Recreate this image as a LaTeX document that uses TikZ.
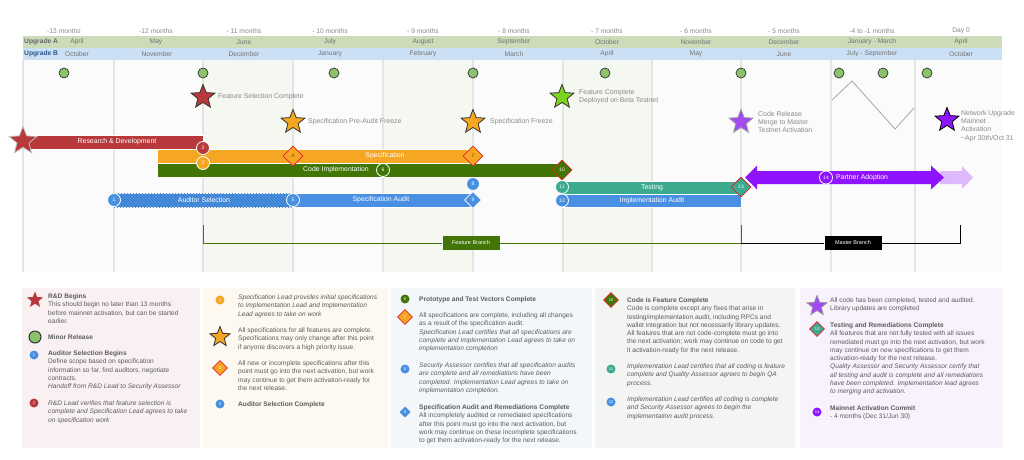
\documentclass[tikz,border=0pt]{standalone}
\usepackage{fontspec}
\setmainfont{Liberation Sans}
\usetikzlibrary{shapes.geometric,patterns}
\definecolor{txt}{HTML}{5C5C5C}
\definecolor{lbl}{HTML}{8A8A8A}
\definecolor{hdrtxt}{HTML}{888888}
\definecolor{rdred}{HTML}{B8393B}
\definecolor{orng}{HTML}{F5A623}
\definecolor{dgreen}{HTML}{417505}
\definecolor{blu}{HTML}{4A90E2}
\definecolor{dblu}{HTML}{3A78C8}
\definecolor{tealc}{HTML}{3BAA8E}
\definecolor{purp}{HTML}{9013FE}
\definecolor{mpurp}{HTML}{A24BF2}
\definecolor{lpurp}{HTML}{DDB8FB}
\definecolor{lgreen}{HTML}{7ED321}
\definecolor{minorg}{HTML}{8CC26A}
\definecolor{hdrA}{HTML}{CCDBB8}
\definecolor{hdrB}{HTML}{CCE0F5}
\definecolor{gridl}{HTML}{E4E4E4}
\definecolor{bgc}{HTML}{FBFBFB}
\definecolor{texc}{HTML}{F5F8F0}
\definecolor{pa}{HTML}{F9F1F1}
\definecolor{pb}{HTML}{FDF9F1}
\definecolor{pc}{HTML}{F4F7FA}
\definecolor{pd}{HTML}{F3F5F2}
\definecolor{pe}{HTML}{F7F2FC}
\definecolor{diared}{HTML}{E0262B}
\begin{document}
\begin{tikzpicture}[x=1pt,y=-1pt,
  hdr/.style={font=\fontsize{6.7}{7}\selectfont, text=hdrtxt, inner sep=0},
  minor/.style={circle, draw=black!80, line width=0.7, fill=minorg, minimum size=10, inner sep=0},
  star5/.style={star, star points=5, star point ratio=2.3, inner sep=0, draw=black!80, line width=0.8},
  mlbl/.style={anchor=west, font=\fontsize{6.9}{8.4}\selectfont, text=lbl, align=left, inner sep=0},
  bar/.style={rectangle, inner sep=0, draw=white, line width=0.4, minimum height=14},
  btxt/.style={font=\fontsize{6.9}{7}\selectfont, text=white, inner sep=0},
  numc/.style={circle, draw=white, line width=0.8, minimum size=13, inner sep=0, font=\fontsize{5}{5}\selectfont, text=white},
  numd/.style={diamond, draw=diared, line width=0.8, minimum size=20, inner sep=0, font=\fontsize{5}{5}\selectfont},
  lnum/.style={circle, minimum size=9, inner sep=0, font=\fontsize{4}{4}\selectfont, text=white},
  ldia/.style={diamond, draw=diared, line width=0.8, minimum size=15, inner sep=0, font=\fontsize{4}{4}\selectfont},
  lgd/.style={anchor=north west, inner sep=0, align=left, font=\fontsize{6.6}{8.3}\selectfont, text=txt},
  brbox/.style={rectangle, inner sep=0, minimum width=57, minimum height=14, font=\fontsize{5.5}{6}\selectfont, text=white}
]
\useasboundingbox (0,0) rectangle (1024,459);
\fill[white] (0,0) rectangle (1024,459);
% timeline background
\fill[bgc] (23,60) rectangle (1002,272);
\foreach \a/\b in {203/293,383/473,563/652} \fill[texc] (\a,60) rectangle (\b,272);
\foreach \x in {23,114,203,293,383,473,563,652,741,831,915} \draw[gridl, line width=1.2] (\x,60) -- (\x,272);
% header
\fill[hdrA] (23,36) rectangle (1002,48);
\fill[hdrB] (23,48) rectangle (1002,60);
\foreach \x/\t [count=\i] in {64/-13 months,156/-12 months,244/- 11 months,330/- 10 months,423/- 9 months,514/- 8 months,607/- 7 months,696/- 6 months,784/- 5 months,872/-4 to -1 months,961/Day 0}
  \node[hdr] (m\i) at (\x,31) {\t};
\node[hdr, anchor=west, text=black!60, font=\fontsize{6.7}{7}\selectfont\bfseries] (ua) at (24,42) {Upgrade A};
\node[hdr, anchor=west, text=dblu!70!black, font=\fontsize{6.7}{7}\selectfont\bfseries] (ub) at (24,54) {Upgrade B};
\foreach \x/\t [count=\i] in {77/April,156/May,244/June,330/July,423/August,514/September,607/October,696/November,784/December,872/January - March,961/April}
  \node[hdr, text=black!55] (a\i) at (\x,42) {\t};
\foreach \x/\t [count=\i] in {77/October,157/November,244/December,330/January,423/February,514/March,607/April,696/May,784/June,872/July - September,961/October}
  \node[hdr, text=black!55] (b\i) at (\x,54) {\t};
% minor releases
\foreach \x [count=\i] in {64,203,334,473,605,741,839,883,927}
  \node[minor] (mr\i) at (\x,73) {};
% zigzag
\draw[black!35, line width=0.8] (832,100) -- (852,81) -- (895,129) -- (914,108);
% milestone stars
\node[star5, fill=rdred, minimum size=25] (s1) at (203,97) {};
\node[mlbl] (l1) at (218,97) {Feature Selection Complete};
\node[star5, fill=orng, minimum size=25] (s2) at (293,122) {};
\node[mlbl] (l2) at (308,122) {Specification Pre-Audit Freeze};
\node[star5, fill=orng, minimum size=25] (s3) at (473,122) {};
\node[mlbl] (l3) at (490,122) {Specification Freeze};
\node[star5, fill=lgreen, minimum size=25] (s4) at (562,97) {};
\node[mlbl] (l4) at (579,97) {Feature Complete\\Deployed on Beta Testnet};
\node[star5, fill=mpurp, draw=black!40, minimum size=25] (s5) at (741,122) {};
\node[mlbl] (l5) at (758,122) {Code Release\\Merge to Master\\Testnet Activation};
\node[star5, fill=purp, draw=black, minimum size=25] (s6) at (947,120) {};
\node[mlbl] (l6) at (961,126) {Network Upgrade\\Mainnet\\Activation\\\textasciitilde Apr 30th/Oct 31};
% bars
\node[bar, fill=rdred, minimum width=175, anchor=west] (rd) at (28,142) {};
\node[btxt] (rdt) at (117,142) {Research \& Development};
\node[bar, fill=orng, minimum width=316, anchor=west] (spec) at (157,156) {};
\node[btxt] (spect) at (385,156) {Specification};
\node[bar, fill=dgreen, minimum width=405, anchor=west] (code) at (157,170) {};
\node[btxt] (codet) at (336,170) {Code Implementation};
\node[bar, fill=blu, minimum width=179, anchor=west, postaction={pattern=north west lines, pattern color=dblu}] (aud) at (114,200) {};
\node[btxt] (audt) at (204,200) {Auditor Selection};
\node[bar, fill=blu, minimum width=180, anchor=west] (saud) at (293,200) {};
\node[btxt] (saudt) at (381,200) {Specification Audit};
\node[bar, fill=tealc, minimum width=179, minimum height=13, anchor=west] (test) at (562,187.5) {};
\node[btxt] (testt) at (652,187.5) {Testing};
\node[bar, fill=blu, minimum width=179, minimum height=13, anchor=west] (iaud) at (562,200.5) {};
\node[btxt] (iaudt) at (652,200.5) {Implementation Audit};
% R&D star
\node[star5, fill=rdred, draw=black!25, minimum size=29] (s0) at (23,141) {};
% partner adoption arrows
\fill[lpurp] (940,171) -- (962,171) -- (962,166) -- (973,177.5) -- (962,189) -- (962,184) -- (940,184) -- cycle;
\fill[purp] (745,177.5) -- (757,165.5) -- (757,171) -- (931,171) -- (931,165.5) -- (944,177.5) -- (931,189.5) -- (931,184) -- (757,184) -- (757,189.5) -- cycle;
\node[btxt, anchor=west] (pat) at (836,177.5) {Partner Adoption};
% numbered markers
\node[numc, fill=rdred] (c2) at (203,148) {2};
\node[numc, fill=orng] (c3) at (203,163) {3};
\node[numd, fill=orng, text=black!70] (d4) at (293,156) {4};
\node[numd, fill=orng, text=black!70] (d7) at (473,156) {7};
\node[numc, fill=dgreen] (c6) at (383,170) {6};
\node[numd, fill=dgreen, text=white] (d10) at (562,170) {10};
\node[numc, fill=blu] (c8) at (473,184) {8};
\node[numc, fill=blu] (c1) at (114,200) {1};
\node[numc, fill=blu] (c5) at (293,200) {5};
\node[numd, fill=blu, draw=white, text=white, minimum size=17] (d9) at (473,200) {9};
\node[numc, fill=tealc] (c11) at (562,187) {11};
\node[numc, fill=blu] (c12) at (562,200.5) {12};
\node[numd, fill=tealc, text=white] (d13) at (741,187) {13};
\node[numc, fill=purp] (c14) at (826,177.5) {14};
% branches
\coordinate (fbL) at (203,225);
\coordinate (fbR) at (741,225);
\coordinate (mbR) at (960,225);
\node[brbox, fill=dgreen] (fb) at (471,243) {Feature Branch};
\node[brbox, fill=black] (mb) at (853,243) {Master Branch};
\draw[dgreen, line width=0.9] (fbL) |- (fb.west);
\draw[dgreen, line width=0.9] (fb.east) -| (fbR);
\draw[black, line width=0.9] (fbR |- fb.east) -- (mb.west);
\draw[black, line width=0.9] (mb.east) -| (mbR);
% legend panels
\fill[pa] (22,288) rectangle (200,448);
\fill[pb] (203,288) rectangle (388,448);
\fill[pc] (391,288) rectangle (592,448);
\fill[pd] (595,288) rectangle (795,448);
\fill[pe] (800,288) rectangle (1003,448);
% panel 1
\node[star, star points=5, star point ratio=2.3, inner sep=0, fill=rdred, minimum size=17] (i1) at (35,300) {};
\node[minor, minimum size=12, line width=1] (i2) at (35,337) {};
\node[lnum, fill=blu] (i3) at (34,355) {1};
\node[lnum, fill=rdred] (i4) at (34,403) {2};
\node[lgd] (t1a) at (48,293.5) {\textbf{R\&D Begins}\\This should begin no later than 13 months\\before mainnet activation, but can be started\\earlier.};
\node[lgd] (t1b) at (48,334.5) {\textbf{Minor Release}};
\node[lgd] (t1c) at (48,350.5) {\textbf{Auditor Selection Begins}\\Define scope based on specification\\information so far, find auditors, negotiate\\contracts.\\\textit{Handoff from R\&D Lead to Security Assessor}};
\node[lgd] (t1d) at (48,400.5) {\textit{R\&D Lead verifies that feature selection is}\\\textit{complete and Specification Lead agrees to take}\\\textit{on specification work}};
% panel 2
\node[lnum, fill=orng] (i5) at (220,300) {3};
\node[star5, fill=orng, minimum size=21] (i6) at (220,337) {};
\node[ldia, fill=orng, text=white] (i7) at (220,368) {4};
\node[lnum, fill=blu] (i8) at (220,404) {5};
\node[lgd] (t2a) at (238,294.5) {\textit{Specification Lead provides initial specifications}\\\textit{to Implementation Lead and Implementation}\\\textit{Lead agrees to take on work}};
\node[lgd] (t2b) at (238,327.5) {All specifications for all features are complete.\\Specifications may only change after this point\\if anyone discovers a high priority issue.};
\node[lgd] (t2c) at (238,360.5) {All new or incomplete specifications after this\\point must go into the next activation, but work\\may continue to get them activation-ready for\\the next release.};
\node[lgd] (t2d) at (238,401.5) {\textbf{Auditor Selection Complete}};
% panel 3
\node[lnum, fill=dgreen] (i9) at (405,299) {6};
\node[ldia, fill=orng, text=white] (i10) at (405,317) {7};
\node[lnum, fill=blu] (i11) at (405,369) {8};
\node[ldia, fill=blu, draw=white, text=white, minimum size=13] (i12) at (405,412) {9};
\node[lgd] (t3a) at (419,296.5) {\textbf{Prototype and Test Vectors Complete}};
\node[lgd] (t3b) at (419,312.5) {All specifications are complete, including all changes\\as a result of the specification audit.\\\textit{Specification Lead certifies that all specifications are}\\\textit{complete and Implementation Lead agrees to take on}\\\textit{implementation completion}};
\node[lgd] (t3c) at (419,362.5) {\textit{Security Assessor certifies that all specification audits}\\\textit{are complete and all remediations have been}\\\textit{completed. Implementation Lead agrees to take on}\\\textit{implementation completion.}};
\node[lgd] (t3d) at (419,404.5) {\textbf{Specification Audit and Remediations Complete}\\All incompletely audited or remediated specifications\\after this point must go into the next activation, but\\work may continue on these incomplete specifications\\to get them activation-ready for the next release.};
% panel 4
\node[ldia, fill=dgreen, text=white] (i13) at (611,300) {10};
\node[lnum, fill=tealc] (i14) at (611,369) {11};
\node[lnum, fill=blu] (i15) at (611,402) {12};
\node[lgd] (t4a) at (627,297.5) {\textbf{Code is Feature Complete}\\Code is complete except any fixes that arise in\\testing/implementation audit, including RPCs and\\wallet integration but not necessarily library updates.\\All features that are not code-complete must go into\\the next activation; work may continue on code to get\\it activation-ready for the next release.};
\node[lgd] (t4b) at (627,363.5) {\textit{Implementation Lead certifies that all coding is feature}\\\textit{complete and Quality Assessor agrees to begin QA}\\\textit{process.}};
\node[lgd] (t4c) at (627,396.5) {\textit{Implementation Lead certifies all coding is complete}\\\textit{and Security Assessor agrees to begin the}\\\textit{implementation audit process.}};
% panel 5
\node[star5, fill=mpurp, draw=black!40, minimum size=21] (i16) at (817,306) {};
\node[ldia, fill=tealc, text=white] (i17) at (817,329) {13};
\node[lnum, fill=purp] (i18) at (817,412) {14};
\node[lgd] (t5a) at (830,297.5) {All code has been completed, tested and audited.\\Library updates are completed};
\node[lgd] (t5b) at (830,322.5) {\textbf{Testing and Remediations Complete}\\All features that are not fully tested with all issues\\remediated must go into the next activation, but work\\may continue on new specifications to get them\\activation-ready for the next release.\\\textit{Quality Assessor and Security Assessor certify that}\\\textit{all testing and audit is complete and all remediations}\\\textit{have been completed. Implementation lead agrees}\\\textit{to merging and activation.}};
\node[lgd] (t5c) at (830,405.5) {\textbf{Mainnet Activation Commit}\\- 4 months (Dec 31/Jun 30)};
\end{tikzpicture}
\end{document}
